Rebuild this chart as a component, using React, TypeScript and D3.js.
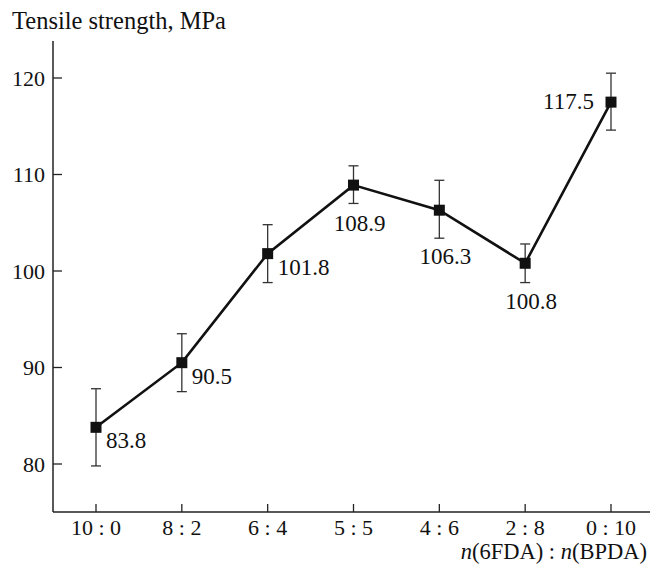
import * as d3 from 'd3'
import { useEffect, useRef } from 'react'

const ratios = ['10 : 0', '8 : 2', '6 : 4', '5 : 5', '4 : 6', '2 : 8', '0 : 10']
const strength = [83.8, 90.5, 101.8, 108.9, 106.3, 100.8, 117.5]
const errLow = [79.8, 87.5, 98.8, 107.0, 103.4, 98.8, 114.6]
const errHigh = [87.8, 93.5, 104.8, 110.9, 109.4, 102.8, 120.5]
const yTicks = [80, 90, 100, 110, 120]
// where each value label sits relative to its marker
const labelPos = ['right', 'right', 'right', 'below', 'below', 'below', 'left']

const W = 650
const H = 566
const FONT = 'Liberation Serif, Times New Roman, serif'

export default function App() {
  const ref = useRef<SVGSVGElement>(null)

  useEffect(() => {
    const svg = d3.select(ref.current)
    svg.selectAll('*').remove()
    svg.attr('font-family', FONT).attr('fill', '#111')

    const x = d3.scalePoint<string>().domain(ratios).range([96, 611])
    const y = d3.scaleLinear().domain([80, 120]).range([464, 78])
    const x0 = 53
    const yBase = 512

    // axes lines
    svg.append('line')
      .attr('x1', x0).attr('x2', x0).attr('y1', 41).attr('y2', yBase)
      .attr('stroke', '#222').attr('stroke-width', 1.5)
    svg.append('line')
      .attr('x1', x0).attr('x2', W).attr('y1', yBase).attr('y2', yBase)
      .attr('stroke', '#222').attr('stroke-width', 1.5)

    // y ticks (inward)
    const yt = svg.append('g')
    yTicks.forEach((t) => {
      yt.append('line')
        .attr('x1', x0).attr('x2', x0 + 9).attr('y1', y(t)).attr('y2', y(t))
        .attr('stroke', '#222').attr('stroke-width', 1.3)
      yt.append('text')
        .attr('x', x0 - 8).attr('y', y(t)).attr('dy', '0.35em')
        .attr('text-anchor', 'end')
        .attr('font-size', 22)
        .text(t)
    })

    // x ticks
    const xt = svg.append('g')
    ratios.forEach((r) => {
      xt.append('line')
        .attr('x1', x(r)!).attr('x2', x(r)!).attr('y1', yBase).attr('y2', yBase - 8)
        .attr('stroke', '#222').attr('stroke-width', 1.3)
      xt.append('text')
        .attr('x', x(r)!).attr('y', 535)
        .attr('text-anchor', 'middle')
        .attr('font-size', 22)
        .text(r)
    })

    // axis titles
    svg.append('text')
      .attr('x', 12).attr('y', 29)
      .attr('font-size', 24.5)
      .text('Tensile strength, MPa')

    const xl = svg.append('text')
      .attr('x', 647).attr('y', 559)
      .attr('text-anchor', 'end')
      .attr('font-size', 22.5)
    xl.append('tspan').attr('font-style', 'italic').text('n')
    xl.append('tspan').text('(6FDA) : ')
    xl.append('tspan').attr('font-style', 'italic').text('n')
    xl.append('tspan').text('(BPDA)')

    // error bars
    const eb = svg.append('g').attr('stroke', '#333').attr('stroke-width', 1.3)
    ratios.forEach((r, i) => {
      const cx = x(r)!
      eb.append('line').attr('x1', cx).attr('x2', cx).attr('y1', y(errLow[i])).attr('y2', y(errHigh[i]))
      eb.append('line').attr('x1', cx - 5).attr('x2', cx + 5).attr('y1', y(errLow[i])).attr('y2', y(errLow[i]))
      eb.append('line').attr('x1', cx - 5).attr('x2', cx + 5).attr('y1', y(errHigh[i])).attr('y2', y(errHigh[i]))
    })

    // line
    const line = d3.line<number>()
      .x((d, i) => x(ratios[i])!)
      .y((d) => y(d))
    svg.append('path')
      .datum(strength)
      .attr('d', line)
      .attr('fill', 'none')
      .attr('stroke', '#111')
      .attr('stroke-width', 2.6)

    // markers
    svg.append('g')
      .selectAll('rect')
      .data(strength)
      .join('rect')
      .attr('x', (d, i) => x(ratios[i])! - 5.5)
      .attr('y', (d) => y(d) - 5.5)
      .attr('width', 11)
      .attr('height', 11)
      .attr('fill', '#111')

    // value labels
    svg.append('g')
      .selectAll('text')
      .data(strength)
      .join('text')
      .attr('x', (d, i) => {
        const cx = x(ratios[i])!
        if (labelPos[i] === 'right') return cx + 10
        if (labelPos[i] === 'left') return cx - 17
        return cx + 6
      })
      .attr('y', (d, i) => {
        const cy = y(d)
        if (labelPos[i] === 'right') return cy + 21
        if (labelPos[i] === 'left') return cy + 7
        return cy + (i === 4 ? 54 : 46)
      })
      .attr('text-anchor', (d, i) =>
        labelPos[i] === 'right' ? 'start' : labelPos[i] === 'left' ? 'end' : 'middle')
      .attr('font-size', 23)
      .text((d) => d.toFixed(1))
  }, [])

  return (
    <svg
      ref={ref}
      width={W}
      height={H}
      style={{ position: 'absolute', left: 0, top: 0, background: '#fff' }}
    ></svg>
  )
}
